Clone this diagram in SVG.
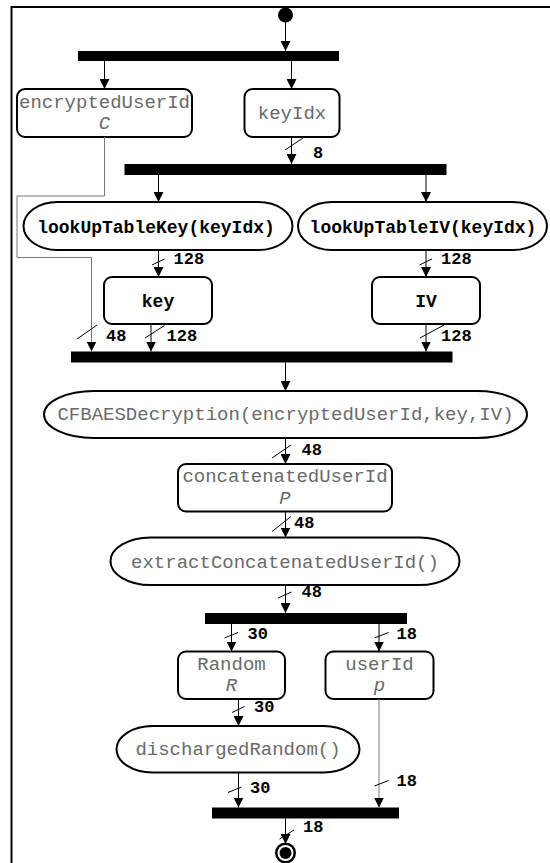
<svg xmlns="http://www.w3.org/2000/svg" width="550" height="863" viewBox="0 0 550 863">
<style>
.frame{fill:none;stroke:#000;stroke-width:2}
.bar{fill:#000}
.box{fill:#fff;stroke:#000;stroke-width:2}
.t{font-family:"Liberation Mono","Courier New",monospace;font-size:19px;fill:#6a6a6a;text-anchor:middle}
.tb{font-family:"Liberation Mono","Courier New",monospace;font-size:18px;font-weight:bold;fill:#000;text-anchor:middle}
.ti{font-family:"Liberation Mono","Courier New",monospace;font-size:19px;font-style:italic;fill:#6a6a6a;text-anchor:middle}
.lbl{font-family:"Liberation Mono","Courier New",monospace;font-size:17px;font-weight:bold;fill:#000}
.c{fill:none;stroke:#000;stroke-width:1}
.g{fill:none;stroke:#777;stroke-width:1}
.s{stroke:#000;stroke-width:1}
</style>
<defs>
<marker id="ah" markerUnits="userSpaceOnUse" markerWidth="10" markerHeight="10" refX="10" refY="5" orient="auto">
<path d="M0,0 L10,5 L0,10 z" fill="#000"/>
</marker>
</defs>
<rect class="frame" x="11.5" y="7" width="620" height="900"/>

<g id="start"><circle cx="285.5" cy="15" r="7.5" fill="#000"/></g>
<g id="fork1"><rect class="bar" x="78" y="51" width="261" height="10"/></g>
<g id="encryptedUserId">
<rect class="box" x="17" y="89" width="175" height="48" rx="8"/>
<text class="t" x="104.5" y="108">encryptedUserId</text>
<text class="ti" x="104.5" y="129">C</text>
</g>
<g id="keyIdx">
<rect class="box" x="244.5" y="89" width="95" height="48" rx="8"/>
<text class="t" x="292" y="119">keyIdx</text>
</g>
<g id="fork2"><rect class="bar" x="124.5" y="164" width="322" height="11"/></g>
<g id="lookUpTableKey">
<rect class="box" x="23.5" y="202" width="269" height="48" rx="34" ry="24"/>
<text class="tb" x="156" y="233">lookUpTableKey(keyIdx)</text>
</g>
<g id="lookUpTableIV">
<rect class="box" x="298" y="202" width="249" height="48" rx="34" ry="24"/>
<text class="tb" x="423" y="233">lookUpTableIV(keyIdx)</text>
</g>
<g id="key">
<rect class="box" x="104" y="277" width="108" height="47" rx="8"/>
<text class="tb" x="158" y="306.5">key</text>
</g>
<g id="IV">
<rect class="box" x="372" y="277" width="108" height="47" rx="8"/>
<text class="tb" x="426" y="306.5">IV</text>
</g>
<g id="join1"><rect class="bar" x="71" y="351.5" width="381.5" height="11"/></g>
<g id="CFBAESDecryption">
<rect class="box" x="44" y="391" width="483" height="47" rx="50" ry="23.5"/>
<text class="t" x="285.5" y="420">CFBAESDecryption(encryptedUserId,key,IV)</text>
</g>
<g id="concatenatedUserId">
<rect class="box" x="178" y="464" width="214" height="47.5" rx="8"/>
<text class="t" x="285" y="482">concatenatedUserId</text>
<text class="ti" x="285" y="504">P</text>
</g>
<g id="extractConcatenatedUserId">
<rect class="box" x="110.5" y="537.5" width="349" height="47.5" rx="40" ry="23.75"/>
<text class="t" x="285" y="568">extractConcatenatedUserId()</text>
</g>
<g id="fork3"><rect class="bar" x="205" y="613" width="202" height="11"/></g>
<g id="Random">
<rect class="box" x="178" y="651.5" width="107" height="47.5" rx="8"/>
<text class="t" x="231.5" y="670">Random</text>
<text class="ti" x="231.5" y="691">R</text>
</g>
<g id="userId">
<rect class="box" x="325.5" y="651.5" width="108" height="47.5" rx="8"/>
<text class="t" x="379.5" y="670">userId</text>
<text class="ti" x="379.5" y="691">p</text>
</g>
<g id="dischargedRandom">
<rect class="box" x="116.5" y="726" width="243" height="46.5" rx="36" ry="23.25"/>
<text class="t" x="238" y="755">dischargedRandom()</text>
</g>
<g id="join2"><rect class="bar" x="212" y="807.5" width="187" height="11"/></g>
<g id="end">
<circle cx="285.5" cy="853" r="10.5" fill="#000"/>
<circle cx="285.5" cy="853" r="8" fill="#fff"/>
<circle cx="285.5" cy="853" r="6" fill="#000"/>
</g>

<g id="connectors">
<line class="c" x1="285.5" y1="22" x2="285.5" y2="51" marker-end="url(#ah)"/>
<line class="c" x1="104.5" y1="61" x2="104.5" y2="89" marker-end="url(#ah)"/>
<line class="c" x1="291.5" y1="61" x2="291.5" y2="89" marker-end="url(#ah)"/>
<line class="c" x1="291.5" y1="137" x2="291.5" y2="164" marker-end="url(#ah)"/>
<line class="s" x1="285" y1="150" x2="303" y2="138"/>
<text class="lbl" x="313" y="158">8</text>
<path class="g" d="M104.5,137 V196 H17 V257.5 H91.5 V351.5" marker-end="url(#ah)"/>
<line class="s" x1="77" y1="339" x2="97" y2="325"/>
<text class="lbl" x="106" y="341">48</text>
<line class="c" x1="158.5" y1="175" x2="158.5" y2="202" marker-end="url(#ah)"/>
<line class="c" x1="426" y1="175" x2="426" y2="202" marker-end="url(#ah)"/>
<line class="c" x1="158.5" y1="250" x2="158.5" y2="277" marker-end="url(#ah)"/>
<line class="s" x1="152" y1="265" x2="164.5" y2="259"/>
<text class="lbl" x="173.5" y="264">128</text>
<line class="c" x1="426" y1="250" x2="426" y2="277" marker-end="url(#ah)"/>
<line class="s" x1="419.5" y1="265" x2="432" y2="259"/>
<text class="lbl" x="441" y="264">128</text>
<line class="c" x1="151" y1="324" x2="151" y2="351.5" marker-end="url(#ah)"/>
<line class="s" x1="145" y1="338" x2="164.5" y2="325.5"/>
<text class="lbl" x="166.5" y="341">128</text>
<line class="c" x1="426" y1="324" x2="426" y2="351.5" marker-end="url(#ah)"/>
<line class="s" x1="420" y1="338" x2="444" y2="325"/>
<text class="lbl" x="441" y="341">128</text>
<line class="c" x1="285.5" y1="362.5" x2="285.5" y2="391" marker-end="url(#ah)"/>
<line class="c" x1="285.5" y1="438" x2="285.5" y2="464" marker-end="url(#ah)"/>
<line class="s" x1="272" y1="458" x2="291" y2="445"/>
<text class="lbl" x="301.5" y="455">48</text>
<line class="c" x1="285.5" y1="511.5" x2="285.5" y2="537.5" marker-end="url(#ah)"/>
<line class="s" x1="272" y1="531.5" x2="291" y2="516.5"/>
<text class="lbl" x="294" y="528">48</text>
<line class="c" x1="285.5" y1="585" x2="285.5" y2="613" marker-end="url(#ah)"/>
<line class="s" x1="278" y1="598" x2="291.5" y2="592"/>
<text class="lbl" x="301.5" y="597">48</text>
<line class="c" x1="231.5" y1="624" x2="231.5" y2="651.5" marker-end="url(#ah)"/>
<line class="s" x1="224.5" y1="638" x2="238" y2="632.5"/>
<text class="lbl" x="247.5" y="639">30</text>
<line class="c" x1="379" y1="624" x2="379" y2="651.5" marker-end="url(#ah)"/>
<line class="s" x1="374.5" y1="638" x2="388.5" y2="632.5"/>
<text class="lbl" x="396.5" y="639">18</text>
<line class="c" x1="238.5" y1="699" x2="238.5" y2="726" marker-end="url(#ah)"/>
<line class="s" x1="232" y1="712.5" x2="244.5" y2="706.5"/>
<text class="lbl" x="254" y="712">30</text>
<line class="c" x1="238.5" y1="772.5" x2="238.5" y2="807.5" marker-end="url(#ah)"/>
<line class="s" x1="228" y1="792.5" x2="241.5" y2="787"/>
<text class="lbl" x="250" y="792.5">30</text>
<line class="g" x1="379" y1="699" x2="379" y2="807.5" marker-end="url(#ah)"/>
<line class="s" x1="374.5" y1="786" x2="388.5" y2="780.5"/>
<text class="lbl" x="396.5" y="785.5">18</text>
<line class="c" x1="285.5" y1="818.5" x2="285.5" y2="844" marker-end="url(#ah)"/>
<line class="s" x1="279.5" y1="839" x2="294" y2="830"/>
<text class="lbl" x="303" y="832">18</text>
</g>
</svg>
